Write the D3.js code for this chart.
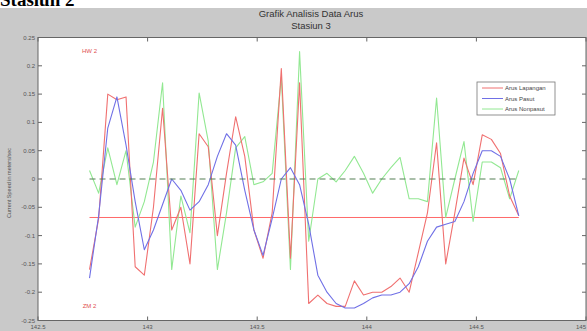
<!DOCTYPE html>
<html>
<head>
<meta charset="utf-8">
<script src="https://cdn.jsdelivr.net/npm/d3@7"></script>
<style>
  body { margin: 0; background: #fff; }
  svg { display: block; font-family: "Liberation Sans", Arial, sans-serif; }
</style>
</head>
<body>
<div id="chart"></div>
<script>
// hourly samples, time axis in days
const t0 = 142.735;
const dt = 1 / 24;

const arusLapangan = [
  -0.16, -0.07, 0.15, 0.14, 0.145, -0.155, -0.17, -0.05, 0.125, -0.09,
  -0.05, -0.15, 0.08, 0.057, -0.1, 0.01, 0.11, 0.04, -0.09, -0.14,
  -0.06, 0.195, -0.14, 0.17, -0.22, -0.205, -0.22, -0.225, -0.225, -0.18,
  -0.205, -0.2, -0.2, -0.19, -0.175, -0.2, -0.13, -0.06, 0.064, -0.15,
  -0.06, 0.037, -0.01, 0.078, 0.07, 0.045, -0.03, -0.065
];
const arusPasut = [
  -0.175, -0.065, 0.09, 0.145, 0.06, -0.04, -0.125, -0.09, -0.045, 0.0,
  -0.02, -0.055, -0.04, -0.01, 0.04, 0.08, 0.06, -0.02, -0.09, -0.135,
  -0.07, 0.0, 0.02, -0.01, -0.08, -0.17, -0.2, -0.22, -0.228, -0.228,
  -0.22, -0.21, -0.205, -0.205, -0.2, -0.185, -0.155, -0.11, -0.085, -0.08,
  -0.075, -0.04, 0.01, 0.05, 0.05, 0.04, 0.0, -0.065
];
const arusNonpasut = [
  0.015, -0.025, 0.055, -0.01, 0.05, -0.085, -0.04, 0.03, 0.17, -0.16,
  -0.03, -0.095, 0.152, 0.067, -0.16, -0.06, 0.055, 0.075, -0.01, -0.005,
  0.01, 0.18, -0.16, 0.225, -0.11, 0.0, 0.01, -0.005, 0.015, 0.04,
  0.01, -0.025, 0.0, 0.02, 0.038, -0.035, -0.035, -0.04, 0.143, -0.068,
  0.0, 0.066, -0.075, 0.03, 0.03, 0.02, -0.035, 0.015
];

const meanLevel = 0;
const lowLevel = -0.068;
const xTicks = [142.5, 143, 143.5, 144, 144.5, 145];
const yTicks = [0.25, 0.2, 0.15, 0.1, 0.05, 0, -0.05, -0.1, -0.15, -0.2, -0.25];
const seriesNames = ['Arus Lapangan', 'Arus Pasut', 'Arus Nonpasut'];
const seriesColors = ['#f07070', '#7070e6', '#92e892'];

const W = 587, H = 331;
const box = {left: 38, right: 586, top: 37.5, bottom: 320.5};

const svg = d3.select('#chart').append('svg')
  .attr('width', W)
  .attr('height', H);

// document heading partly cut off
svg.append('text')
  .attr('x', 0).attr('y', 6)
  .attr('font-family', '"Liberation Serif", serif')
  .attr('font-weight', 'bold')
  .attr('font-size', 19)
  .attr('fill', '#000')
  .text('Stasiun 2');

// figure background
svg.append('rect').attr('x', 0).attr('y', 8).attr('width', W).attr('height', H - 8)
  .attr('fill', '#c9c9c9');

const x = d3.scaleLinear().domain([142.5, 145]).range([box.left, box.right]);
const y = d3.scaleLinear().domain([-0.25, 0.25]).range([box.bottom, box.top]);

svg.append('rect')
  .attr('x', box.left).attr('y', box.top)
  .attr('width', box.right - box.left).attr('height', box.bottom - box.top)
  .attr('fill', '#fff');

// titles
svg.append('text').attr('x', 311).attr('y', 17).attr('text-anchor', 'middle')
  .attr('font-size', 9.5).attr('fill', '#333').text('Grafik Analisis Data Arus');
svg.append('text').attr('x', 311).attr('y', 29).attr('text-anchor', 'middle')
  .attr('font-size', 9.5).attr('fill', '#333').text('Stasiun 3');

const times = arusLapangan.map((d, i) => t0 + i * dt);
const tStart = times[0], tEnd = times[times.length - 1];

// reference levels
svg.append('line')
  .attr('x1', x(tStart)).attr('x2', x(tEnd))
  .attr('y1', y(lowLevel)).attr('y2', y(lowLevel))
  .attr('stroke', '#ff6a6a').attr('stroke-width', 1);

const line = d3.line()
  .x((d, i) => x(times[i]))
  .y(d => y(d));

const series = [arusLapangan, arusPasut, arusNonpasut];
[2, 0, 1].forEach(k => {
  svg.append('path')
    .attr('d', line(series[k]))
    .attr('fill', 'none')
    .attr('stroke', seriesColors[k])
    .attr('stroke-width', 1.1)
    .attr('stroke-linejoin', 'round');
});

svg.append('line')
  .attr('x1', x(tStart)).attr('x2', x(tEnd))
  .attr('y1', y(meanLevel)).attr('y2', y(meanLevel))
  .attr('stroke', '#557f55').attr('stroke-width', 1.2)
  .attr('stroke-dasharray', '6,4');

// red level labels
svg.append('text').attr('x', x(tStart)).attr('y', y(0.222)).attr('text-anchor', 'middle')
  .attr('font-size', 6).attr('fill', '#e05050').text('HW 2');
svg.append('text').attr('x', x(tStart)).attr('y', y(-0.228)).attr('text-anchor', 'middle')
  .attr('font-size', 6).attr('fill', '#e05050').text('ZM 2');

// axes (MATLAB style: ticks inside, box)
const tickLen = 4;
const axes = svg.append('g').attr('stroke', '#666').attr('stroke-width', 1);
axes.append('rect')
  .attr('x', box.left).attr('y', box.top)
  .attr('width', box.right - box.left).attr('height', box.bottom - box.top)
  .attr('fill', 'none');
xTicks.forEach(t => {
  axes.append('line').attr('x1', x(t)).attr('x2', x(t)).attr('y1', box.bottom).attr('y2', box.bottom - tickLen);
  axes.append('line').attr('x1', x(t)).attr('x2', x(t)).attr('y1', box.top).attr('y2', box.top + tickLen);
});
yTicks.forEach(v => {
  axes.append('line').attr('x1', box.left).attr('x2', box.left + tickLen).attr('y1', y(v)).attr('y2', y(v));
  axes.append('line').attr('x1', box.right).attr('x2', box.right - tickLen).attr('y1', y(v)).attr('y2', y(v));
});

svg.append('g').selectAll('text').data(xTicks).enter().append('text')
  .attr('x', d => Math.min(x(d), W - 6)).attr('y', 328.5).attr('text-anchor', 'middle')
  .attr('font-size', 6).attr('fill', '#555').text(d => d);
svg.append('g').selectAll('text').data(yTicks).enter().append('text')
  .attr('x', box.left - 3).attr('y', d => y(d) + 2).attr('text-anchor', 'end')
  .attr('font-size', 6).attr('fill', '#555').text(d => d);

svg.append('text')
  .attr('transform', `translate(11, ${(box.top + box.bottom) / 2 + 4}) rotate(-90)`)
  .attr('text-anchor', 'middle').attr('font-size', 5.5).attr('fill', '#555')
  .text('Current Speed in meters/sec');

// legend
const legend = svg.append('g').attr('transform', 'translate(477, 82)');
legend.append('rect').attr('width', 78).attr('height', 33)
  .attr('fill', '#fff').attr('stroke', '#777').attr('stroke-width', 0.8);
seriesNames.forEach((name, i) => {
  const ly = 6 + i * 10.5;
  legend.append('line').attr('x1', 5).attr('x2', 26).attr('y1', ly).attr('y2', ly)
    .attr('stroke', seriesColors[i]).attr('stroke-width', 1);
  legend.append('text').attr('x', 28).attr('y', ly + 2).attr('font-size', 6)
    .attr('fill', '#444').text(name);
});
</script>
</body>
</html>
